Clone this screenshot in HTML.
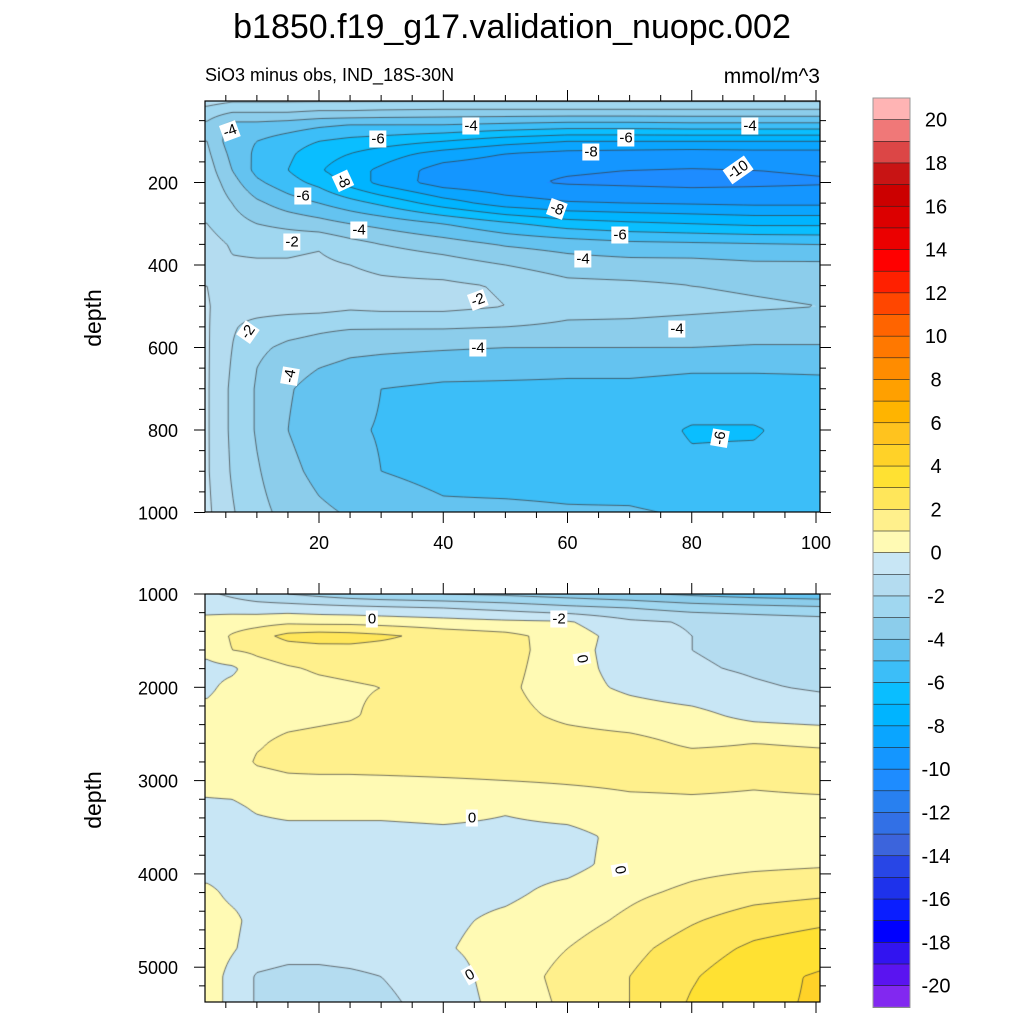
<!DOCTYPE html>
<html><head><meta charset="utf-8">
<style>
html,body{margin:0;padding:0;background:#fff;}
#wrap{position:relative;width:1024px;height:1024px;overflow:hidden;font-family:"Liberation Sans",sans-serif;}
canvas{position:absolute;}
svg{position:absolute;left:0;top:0;}
.clab{position:absolute;background:#fff;font-size:15px;line-height:15px;padding:1px 2px;transform:translate(-50%,-50%);font-family:"Liberation Sans",sans-serif;white-space:nowrap;}
</style></head>
<body>
<div id="wrap">
<canvas id="c1" width="615" height="411" style="left:205px;top:101px"></canvas>
<canvas id="c2" width="615" height="408" style="left:205px;top:594px"></canvas>
<svg id="svg" width="1024" height="1024"></svg>
</div>
<script>
// ---- data ----
const xCols = [2,6,10,15,20,25,30,40,50,60,70,80,90,100.6];
const topDepths = [0,30,60,100,130,170,200,250,300,350,400,450,500,550,600,650,700,800,900,1000];
const topVals = [
[-1.5,-1.8,-1.8,-1.8,-1.8,-1.8,-1.8,-1.8,-1.8,-1.8,-1.8,-1.8,-1.8,-1.8],
[-2.5,-3,-3,-3,-3.2,-3.2,-3.3,-3.4,-3.4,-3.4,-3.4,-3.4,-3.4,-3.4],
[-3.2,-4.3,-4.3,-4.5,-4.8,-5,-5,-5,-5.2,-5.4,-5.4,-5.3,-5.3,-5.3],
[-3,-4.6,-5,-5.5,-6,-6.3,-6.5,-7,-7.6,-8,-8,-8,-8,-8],
[-2.8,-4.3,-5.2,-5.8,-6.6,-7,-7.5,-8.4,-9,-9.3,-9.4,-9.5,-9.4,-9.4],
[-2.5,-4,-5.3,-6,-6.9,-7.6,-8.2,-9.5,-9.8,-9.9,-10,-10.05,-10,-9.9],
[-2.3,-3.6,-4.8,-5.6,-6.3,-7.4,-8.3,-9.5,-9.8,-10.1,-10.2,-10.3,-10.2,-10.1],
[-2.1,-3,-3.8,-4.5,-5,-5.6,-6.2,-7.5,-8.5,-8.9,-9,-9.1,-9.2,-9.2],
[-2,-2.6,-3,-3.3,-3.6,-4,-4.3,-5,-5.8,-6.5,-6.8,-7,-7.2,-7.2],
[-1.6,-2.1,-2.2,-2.2,-2.1,-2.6,-3,-3.5,-4.1,-4.4,-4.7,-4.8,-4.9,-5],
[-1.3,-1.9,-1.9,-1.9,-1.8,-2.0,-2.2,-2.5,-3.0,-3.5,-3.6,-3.6,-3.8,-3.8],
[-1.0,-1.7,-1.6,-1.6,-1.5,-1.7,-1.8,-1.8,-2.1,-2.7,-2.8,-3,-3.1,-3.2],
[-0.9,-1.7,-1.6,-1.6,-1.6,-1.8,-1.7,-1.7,-2.0,-2.6,-2.7,-2.8,-2.9,-3],
[-0.9,-1.9,-2.3,-2.6,-2.8,-2.9,-2.9,-2.9,-3,-3.2,-3.2,-3.3,-3.4,-3.4],
[-0.9,-2.0,-2.8,-3.2,-3.4,-3.7,-3.8,-3.9,-4,-4,-4,-4,-4.1,-4.1],
[-0.9,-2.1,-3.0,-3.6,-4,-4.3,-4.4,-4.6,-4.7,-4.8,-4.8,-4.9,-4.9,-4.9],
[-0.9,-2.2,-3.1,-3.9,-4.4,-4.7,-5.0,-5.2,-5.2,-5.2,-5.2,-5.3,-5.3,-5.2],
[-0.9,-2.2,-3.1,-4.0,-4.6,-4.9,-5.05,-5.4,-5.5,-5.5,-5.5,-6.1,-6.1,-5.5],
[-0.9,-2.1,-2.9,-3.7,-4.3,-4.7,-5.0,-5.3,-5.4,-5.4,-5.5,-5.8,-5.7,-5.5],
[-0.8,-1.9,-2.7,-3.3,-3.8,-4.1,-4.4,-4.8,-4.8,-4.9,-4.9,-5.1,-5.1,-5.1]];
const botDepths = [1000,1150,1300,1450,1600,1800,2000,2300,2600,2800,3000,3300,3600,3900,4200,4500,4800,5100,5375];
const botVals = [
[-0.8,-1.2,-1.6,-2,-2.3,-2.6,-2.8,-3,-3.2,-3.5,-3.8,-4.2,-4.5,-4.7],
[-0.3,-0.4,-0.5,-0.5,-0.6,-0.7,-0.8,-1,-1.3,-1.7,-2,-2.4,-2.6,-2.8],
[0.3,0.5,0.6,0.8,0.7,0.7,0.6,0.4,0.2,0.1,-0.8,-1.1,-1.3,-1.5],
[0.4,1.1,1.6,2.3,2.5,2.4,2.2,1.6,1.3,0.5,-0.5,-1,-1.2,-1.4],
[0.3,1.0,1.2,1.5,1.6,1.7,1.6,1.5,1.4,0.4,-0.5,-1,-1.2,-1.6],
[-0.3,-0.2,0.6,0.9,1.1,1.2,1.3,1.4,1.3,0.4,-0.4,-0.9,-1.1,-1.3],
[-0.2,0.3,0.6,0.7,0.8,0.9,1.0,1.2,1.2,0.4,-0.2,-0.6,-0.9,-1.1],
[0.3,0.5,0.6,0.7,0.8,0.9,1.2,1.4,1.3,0.8,0.5,0.3,-0.3,-0.5],
[0.3,0.5,0.9,1.2,1.3,1.4,1.5,1.5,1.5,1.4,1.3,0.85,1.0,0.9],
[0.3,0.5,1.1,1.3,1.4,1.4,1.5,1.5,1.5,1.5,1.5,1.4,1.35,1.3],
[0.3,0.4,0.6,0.8,0.8,0.8,0.8,0.9,1.0,1.1,1.2,1.2,1.1,1.2],
[-0.2,-0.2,0.1,0.3,0.3,0.3,0.3,0.4,0.1,0.4,0.7,0.8,0.8,0.8],
[-0.4,-0.4,-0.4,-0.4,-0.4,-0.4,-0.4,-0.3,-0.3,-0.3,0.3,0.6,0.7,0.6],
[-0.4,-0.4,-0.4,-0.4,-0.4,-0.4,-0.4,-0.3,-0.3,-0.3,0.4,0.7,0.8,0.9],
[0.2,-0.2,-0.3,-0.4,-0.4,-0.4,-0.4,-0.3,-0.2,0.3,0.8,1.2,1.6,1.8],
[0.4,0.2,-0.3,-0.4,-0.5,-0.5,-0.4,-0.2,0.2,0.6,1.2,1.9,2.5,2.8],
[0.5,0.1,-0.4,-0.6,-0.6,-0.5,-0.4,-0.1,0.4,1.0,1.7,2.5,3.2,3.6],
[0.5,-0.3,-1.1,-1.3,-1.3,-1.2,-1.0,-0.5,0.5,1.3,2.0,2.9,3.7,4.1],
[0.5,-0.3,-1.1,-1.4,-1.4,-1.4,-1.2,-0.6,0.4,1.2,2.0,3.1,3.8,4.1]];
const cbarLabels = [20,18,16,14,12,10,8,6,4,2,0,-2,-4,-6,-8,-10,-12,-14,-16,-18,-20];
const topXTicks = [20,40,60,80,100];
const topYTicks = [200,400,600,800,1000];
const botYTicks = [1000,2000,3000,4000,5000];
const palette = ["#FFB4B4","#F07878","#DC4646","#C81414","#CC0000","#DC0000","#EB0000","#FF0000","#FF2000","#FF4600","#FF6400","#FF7800","#FF8C00","#FFA000","#FFB400","#FFC31E","#FFD228","#FFE132","#FFE65A","#FFF08C","#FFFAB4",
"#C8E6F5","#B4DCF0","#A0D7F0","#8CCDEB","#64C3F0","#3CBEF8","#0ABEFF","#00B4FF","#0AA5FF","#1496FF","#1E8CFF","#2880F0","#3270E6","#3C64DC","#2846E6","#1E32EB","#0A1EFF","#0000FF","#3214F0","#5A14F0","#8228F0"];

// ---- axes ----
const X0=205, X1=820;
const xScale = v => 194.75 + v*6.2125;
const xInv = p => (p-194.75)/6.2125;
const T0=101, T1=512, B0=594, B1=1002;
const yTop = d => 100 + d*82.5/200;
const yTopInv = p => (p-100)*200/82.5;
const yBot = d => 594 + (d-1000)*0.0933;
const yBotInv = p => 1000 + (p-594)/0.0933;

function hex(c){return [parseInt(c.substr(1,2),16),parseInt(c.substr(3,2),16),parseInt(c.substr(5,2),16)];}
const rgb = palette.map(hex);
function colIdx(v){let k=Math.floor(v);if(k>20)k=20;if(k<-21)k=-21;return 20-k;}
function locate(arr,v){let i=0;while(i<arr.length-2&&v>arr[i+1])i++;let t=(v-arr[i])/(arr[i+1]-arr[i]);t=Math.max(0,Math.min(1,t));return [i,t];}
function sample(vals,depths,x,d){const [i,tx]=locate(xCols,x);const [j,ty]=locate(depths,d);
  const a=vals[j][i],b=vals[j][i+1],c=vals[j+1][i],e=vals[j+1][i+1];
  return (a*(1-tx)+b*tx)*(1-ty)+(c*(1-tx)+e*tx)*ty;}

function drawField(id,vals,depths,top,yInv){
  const cv=document.getElementById(id),ctx=cv.getContext('2d');const W=cv.width,H=cv.height;
  const img=ctx.createImageData(W,H);
  for(let py=0;py<H;py++){const d=yInv(top+py+0.5);
    for(let px=0;px<W;px++){const v=sample(vals,depths,xInv(X0+px+0.5),d);const c=rgb[colIdx(v)];const o=(py*W+px)*4;
      img.data[o]=c[0];img.data[o+1]=c[1];img.data[o+2]=c[2];img.data[o+3]=255;}}
  ctx.putImageData(img,0,0);
  const s=2,nx=Math.ceil(W/s)+1,ny=Math.ceil(H/s)+1,g=[];
  for(let j=0;j<ny;j++){g.push([]);const d=yInv(top+j*s);for(let i=0;i<nx;i++)g[j].push(sample(vals,depths,xInv(X0+i*s),d));}
  ctx.strokeStyle='#3a3a3a';ctx.lineWidth=0.7;ctx.beginPath();
  for(let L=-21;L<=21;L++){
    for(let j=0;j<ny-1;j++)for(let i=0;i<nx-1;i++){
      const v=[g[j][i],g[j][i+1],g[j+1][i+1],g[j+1][i]];
      const p=[[i*s,j*s],[(i+1)*s,j*s],[(i+1)*s,(j+1)*s],[i*s,(j+1)*s]];
      const pts=[];
      for(let k=0;k<4;k++){const a=v[k],b=v[(k+1)%4];if((a<L)!==(b<L)){const t=(L-a)/(b-a);pts.push([p[k][0]+(p[(k+1)%4][0]-p[k][0])*t,p[k][1]+(p[(k+1)%4][1]-p[k][1])*t]);}}
      for(let k=0;k+1<pts.length;k+=2){ctx.moveTo(pts[k][0],pts[k][1]);ctx.lineTo(pts[k+1][0],pts[k+1][1]);}
    }}
  ctx.stroke();
}
drawField('c1',topVals,topDepths,T0,yTopInv);
drawField('c2',botVals,botDepths,B0,yBotInv);

// ---- svg ----
const svg=document.getElementById('svg');const NS='http://www.w3.org/2000/svg';
function el(tag,attrs,parent){const e=document.createElementNS(NS,tag);for(const k in attrs)e.setAttribute(k,attrs[k]);(parent||svg).appendChild(e);return e;}
function txt(x,y,s,size,anchor,name,rot){const t=el('text',{x:x,y:y,'font-size':size,'text-anchor':anchor||'middle','font-family':'Liberation Sans, sans-serif',fill:'#000'});
  if(rot)t.setAttribute('transform','rotate('+rot+' '+x+' '+y+')');t.textContent=s;
  
  return t;}

txt(512,38,'b1850.f19_g17.validation_nuopc.002',34,'middle','chart-title');
txt(205,81,'SiO3 minus obs, IND_18S-30N',18,'start','subtitle');
txt(820,83,'mmol/m^3',21,'end','units-label');
txt(101,318,'depth',23,'middle','upper-y-axis-title',-90);
txt(101,800,'depth',23,'middle','lower-y-axis-title',-90);

function panel(top,bot,yfn,majors,minorStep,dmin,dmax,name,xlabels){
  const g=el('g',{});
  el('rect',{x:X0,y:top,width:X1-X0,height:bot-top,fill:'none',stroke:'#000','stroke-width':1.2},g);
  for(let v=5;v<=100;v+=5){const px=xScale(v);const maj=v%20===0;const L=maj?11:6;
    el('line',{x1:px,y1:top,x2:px,y2:top-L,stroke:'#000','stroke-width':1},g);
    el('line',{x1:px,y1:bot,x2:px,y2:bot+L,stroke:'#000','stroke-width':1},g);}
  if(xlabels)topXTicks.forEach(v=>txt(xScale(v),bot+37,String(v),18,'middle','x-tick-label'));
  for(let d=Math.ceil(dmin/minorStep)*minorStep;d<=dmax;d+=minorStep){const py=yfn(d);if(py<top-0.5||py>bot+0.5)continue;
    const maj=majors.indexOf(d)>=0;const L=maj?11:6;
    el('line',{x1:X0,y1:py,x2:X0-L,y2:py,stroke:'#000','stroke-width':1},g);
    el('line',{x1:X1,y1:py,x2:X1+L,y2:py,stroke:'#000','stroke-width':1},g);}
  majors.forEach(d=>txt(178,yfn(d)+7,String(d),18,'end','y-tick-label'));
}
panel(T0,T1,yTop,topYTicks,50,0,1000,'upper-panel-axes',true);
panel(B0,B1,yBot,botYTicks,200,1000,5400,'lower-panel-axes',false);

const cbX=873,cbW=37,cbTop=98,box=21.65;
palette.forEach((c,i)=>{const r=el('rect',{x:cbX,y:cbTop+i*box,width:cbW,height:box+0.3,fill:c,stroke:'#222','stroke-width':0.6});
  
  });
el('rect',{x:cbX,y:cbTop,width:cbW,height:box*palette.length,fill:'none',stroke:'#999','stroke-width':1});
cbarLabels.forEach(v=>{const y=cbTop+(21-v)*box;txt(936,y+7,String(v),20,'middle','colorbar-label');});

const labels=[[230,131,'-4',-20],[378,139,'-6',0],[471,126,'-4',0],[591,152,'-8',0],[626,138,'-6',0],[750,126,'-4',0],[738,170,'-10',-35],[343,181,'-8',65],[303,196,'-6',0],[557,209,'-8',20],[359,230,'-4',0],[620,235,'-6',0],[292,242,'-2',0],[583,259,'-4',0],[478,300,'-2',-20],[248,332,'-2',-55],[478,348,'-4',0],[677,329,'-4',0],[290,376,'-4',-80],[720,438,'-6',-80],
[372,619,'0',0],[559,619,'-2',0],[582,659,'0',80],[472,818,'0',0],[620,870,'0',80],[470,975,'0',-30]];
const wrap=document.getElementById('wrap');
labels.forEach(l=>{const d=document.createElement('div');d.className='clab';d.textContent=l[2];
  d.style.left=l[0]+'px';d.style.top=l[1]+'px';d.style.transform='translate(-50%,-50%) rotate('+l[3]+'deg)';
  
  
  wrap.appendChild(d);});
</script>
</body></html>
